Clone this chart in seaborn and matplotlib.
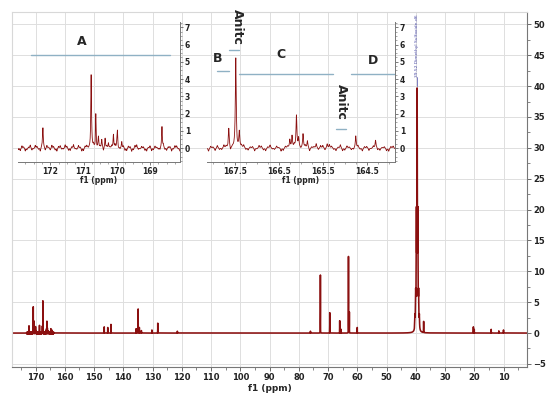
import numpy as np
import matplotlib
matplotlib.use("Agg")
import matplotlib.pyplot as plt
from matplotlib.ticker import MultipleLocator, FixedLocator
import seaborn as sns

# peak list (ppm, intensity)
peak_ppm = [172.22, 170.77, 170.63, 170.55, 170.45, 170.35, 170.25, 170.10, 169.98, 169.85,
            168.64, 167.64, 167.48, 167.40, 166.25, 166.20, 166.10, 166.05, 165.95, 165.85,
            165.65, 165.40, 164.75, 164.30,
            146.5, 145.3, 144.2, 135.6, 134.9, 134.5, 133.8, 130.2, 128.2, 121.5,
            76.0, 72.6, 69.4, 66.0, 65.5, 63.0, 62.7, 60.0, 37.3, 20.3, 20.0, 14.2, 11.6, 10.0]
peak_height = [1.15, 4.2, 2.0, 0.55, 0.6, 0.5, 0.45, 0.9, 1.0, 0.3,
               1.15, 1.2, 5.2, 1.0, 0.6, 0.8, 1.7, 0.6, 0.7, 0.5,
               0.4, 0.3, 0.55, 0.3,
               1.0, 0.9, 1.4, 0.7, 3.9, 0.9, 0.4, 0.5, 1.6, 0.3,
               0.3, 9.4, 3.3, 2.0, 0.6, 12.4, 3.4, 0.9, 1.8, 1.0, 0.6, 0.6, 0.35, 0.5]

# solvent multiplet (DMSO-d6)
dmso_ppm = [38.77, 39.02, 39.27, 39.52, 39.77, 40.02, 40.27]
dmso_height = [2.0, 5.0, 17.0, 37.0, 17.0, 5.0, 2.0]

# baseline wiggles in the carbonyl region, 173.0 -> 163.8 ppm, two interleaved rows
noise_a = [0.12, -0.15, 0.08, -0.1, 0.18, -0.05, 0.1, -0.2, 0.05, 0.15, -0.12, 0.09, -0.18, 0.14, -0.06, 0.11, -0.14, 0.2, -0.08, 0.06,
           -0.16, 0.13, -0.04, 0.17, -0.11, 0.07, -0.19, 0.1, 0.04, -0.13, 0.16, -0.07, 0.12, -0.15, 0.09, -0.1, 0.19, -0.05, 0.08, -0.17,
           0.14, -0.09, 0.05, -0.12, 0.18, -0.14, 0.1, -0.06, 0.13, -0.18, 0.07, 0.15, -0.1, 0.11, -0.2, 0.06, -0.08, 0.16, -0.13, 0.09,
           -0.05, 0.12, -0.16, 0.18, -0.09, 0.04, -0.14, 0.1, -0.11, 0.17, -0.07, 0.13, -0.19, 0.08, -0.1, 0.15, -0.06, 0.11, -0.15, 0.2,
           -0.12, 0.07, -0.09, 0.14, -0.17, 0.1, -0.04, 0.16, -0.13, 0.09, -0.18, 0.12, -0.08]
noise_b = [-0.09, 0.14, -0.17, 0.06, -0.12, 0.16, -0.08, 0.13, -0.15, 0.05, 0.17, -0.11, 0.1, -0.07, 0.19, -0.13, 0.08, -0.06, 0.15, -0.18,
           0.11, -0.05, 0.14, -0.16, 0.09, -0.12, 0.06, -0.17, 0.13, 0.18, -0.1, 0.07, -0.14, 0.12, -0.19, 0.16, -0.08, 0.1, -0.13, 0.05,
           -0.16, 0.12, -0.07, 0.15, -0.1, 0.08, -0.18, 0.14, -0.05, 0.11, -0.15, -0.09, 0.17, -0.12, 0.06, -0.14, 0.13, -0.1, 0.07, -0.17,
           0.15, -0.11, 0.08, -0.06, 0.12, -0.18, 0.1, -0.13, 0.16, -0.05, 0.11, -0.09, 0.07, -0.15, 0.14, -0.12, 0.19, -0.08, 0.06, -0.16,
           0.13, -0.1, 0.16, -0.07, 0.09, -0.14, 0.12, -0.11, 0.05, -0.15, 0.1, -0.06, 0.14]
noise_a_ppm = 173.0 - 0.1 * np.arange(len(noise_a))
noise_b_ppm = 172.95 - 0.1 * np.arange(len(noise_b))

RED = "#8b1010"
BLUE_LINE = "#8fb1c4"


def lorentz(x, pos, hgt, w):
    out = np.zeros_like(x)
    for p, h in zip(pos, hgt):
        out += h * w ** 2 / ((x - p) ** 2 + w ** 2)
    return out


def spectrum(x):
    y = lorentz(x, peak_ppm, peak_height, 0.012)
    y += lorentz(x, dmso_ppm, dmso_height, 0.07)
    y += lorentz(x, noise_a_ppm, noise_a, 0.012)
    y += lorentz(x, noise_b_ppm, noise_b, 0.012)
    return y


def make_grid(lo, hi, step):
    g = np.arange(lo, hi, step)
    extra = [p for p in list(peak_ppm) + list(dmso_ppm) if lo <= p <= hi]
    return np.union1d(g, extra)


sns.set_style("whitegrid")
plt.rcParams["font.family"] = ["DejaVu Sans"]

fig = plt.figure(figsize=(5.5, 3.94), dpi=100)

# ---- main spectrum
ax = fig.add_axes([0.022, 0.0685, 0.936, 0.901])
xm = make_grid(2, 178, 0.005)
sns.lineplot(x=xm, y=spectrum(xm), ax=ax, color=RED, linewidth=1.15, estimator=None, sort=False)
ax.set_xlim(178, 2)
ax.set_ylim(-5.5, 52)
ax.xaxis.set_major_locator(FixedLocator(np.arange(10, 171, 10)))
ax.xaxis.set_minor_locator(MultipleLocator(5))
ax.yaxis.set_major_locator(MultipleLocator(5))
ax.yaxis.set_minor_locator(MultipleLocator(2.5))
ax.yaxis.tick_right()
ax.grid(True, which="major", color="#dedede", linewidth=0.7)
ax.tick_params(which="both", direction="out", bottom=True, right=True, left=False,
               colors="#555555", labelcolor="#222222", labelsize=6, pad=1.5)
ax.tick_params(which="major", length=3, width=0.6)
ax.tick_params(which="minor", length=1.8, width=0.5)
for lab in ax.get_xticklabels() + ax.get_yticklabels():
    lab.set_fontweight("bold")
for s in ["top", "left"]:
    ax.spines[s].set_color("#d8d8d8")
for s in ["bottom", "right"]:
    ax.spines[s].set_color("#777777")
    ax.spines[s].set_linewidth(0.8)
ax.set_xlabel("f1 (ppm)", fontsize=6.5, fontweight="bold", labelpad=1)
ax.set_ylabel("")

ax.plot([39.52, 39.52], [40, 41.4], color="#4a4aa8", linewidth=0.5)
ax.text(39.52, 41.5, "39.52 Dimethyl Sulfoxide-d6", rotation=90, ha="center", va="bottom",
        fontsize=3.2, color="#4a4aa8")


def style_inset(a, xlo, xhi, majors):
    a.set_xlim(xlo, xhi)
    a.set_ylim(-0.8, 7.3)
    a.patch.set_alpha(0)
    a.grid(False)
    a.xaxis.set_major_locator(FixedLocator(majors))
    a.xaxis.set_minor_locator(MultipleLocator(0.25))
    a.yaxis.set_major_locator(MultipleLocator(1))
    a.yaxis.set_minor_locator(MultipleLocator(0.25))
    a.yaxis.tick_right()
    a.tick_params(which="both", direction="out", bottom=True, right=True, left=False,
                  colors="#666666", labelcolor="#222222", labelsize=5.5, pad=1)
    a.tick_params(which="major", length=2.5, width=0.6)
    a.tick_params(which="minor", length=1.3, width=0.4)
    for lab in a.get_xticklabels() + a.get_yticklabels():
        lab.set_fontweight("bold")
    for s in ["top", "left"]:
        a.spines[s].set_visible(False)
    for s in ["bottom", "right"]:
        a.spines[s].set_color("#777777")
        a.spines[s].set_linewidth(0.7)
    a.set_xlabel("f1 (ppm)", fontsize=5.5, fontweight="bold", labelpad=0)
    a.set_ylabel("")


# ---- inset A
axA = fig.add_axes([0.0327, 0.589, 0.2945, 0.355])
xa = make_grid(168.0, 173.1, 0.002)
sns.lineplot(x=xa, y=spectrum(xa), ax=axA, color=RED, linewidth=0.6, estimator=None, sort=False)
style_inset(axA, 172.97, 168.1, [172, 171, 170, 169])
axA.plot([172.57, 168.4], [5.4, 5.4], color=BLUE_LINE, linewidth=1.0)
axA.text(171.04, 6.2, "A", ha="center", va="center", fontsize=9, fontweight="bold")

# ---- inset B / C / D
axB = fig.add_axes([0.376, 0.589, 0.342, 0.355])
xb = make_grid(163.7, 168.3, 0.002)
sns.lineplot(x=xb, y=spectrum(xb), ax=axB, color=RED, linewidth=0.6, estimator=None, sort=False)
style_inset(axB, 168.14, 163.86, [167.5, 166.5, 165.5, 164.5])
axB.plot([167.91, 167.64], [4.45, 4.45], color=BLUE_LINE, linewidth=1.0)
axB.plot([167.64, 167.41], [5.7, 5.7], color=BLUE_LINE, linewidth=1.0)
axB.plot([167.41, 165.27], [4.28, 4.28], color=BLUE_LINE, linewidth=1.0)
axB.plot([164.86, 163.86], [4.28, 4.28], color=BLUE_LINE, linewidth=1.0)
axB.plot([165.2, 164.98], [1.1, 1.1], color=BLUE_LINE, linewidth=1.0)
axB.text(167.89, 5.2, "B", ha="center", va="center", fontsize=9, fontweight="bold")
axB.text(167.45, 7.0, "Anitc", ha="center", va="center", rotation=-90, fontsize=9,
         fontweight="bold", clip_on=False)
axB.text(166.45, 5.4, "C", ha="center", va="center", fontsize=9, fontweight="bold")
axB.text(164.36, 5.1, "D", ha="center", va="center", fontsize=9, fontweight="bold")
axB.text(165.07, 2.7, "Anitc", ha="center", va="center", rotation=-90, fontsize=9,
         fontweight="bold")

plt.savefig("out.png", dpi=100)
plt.close()
